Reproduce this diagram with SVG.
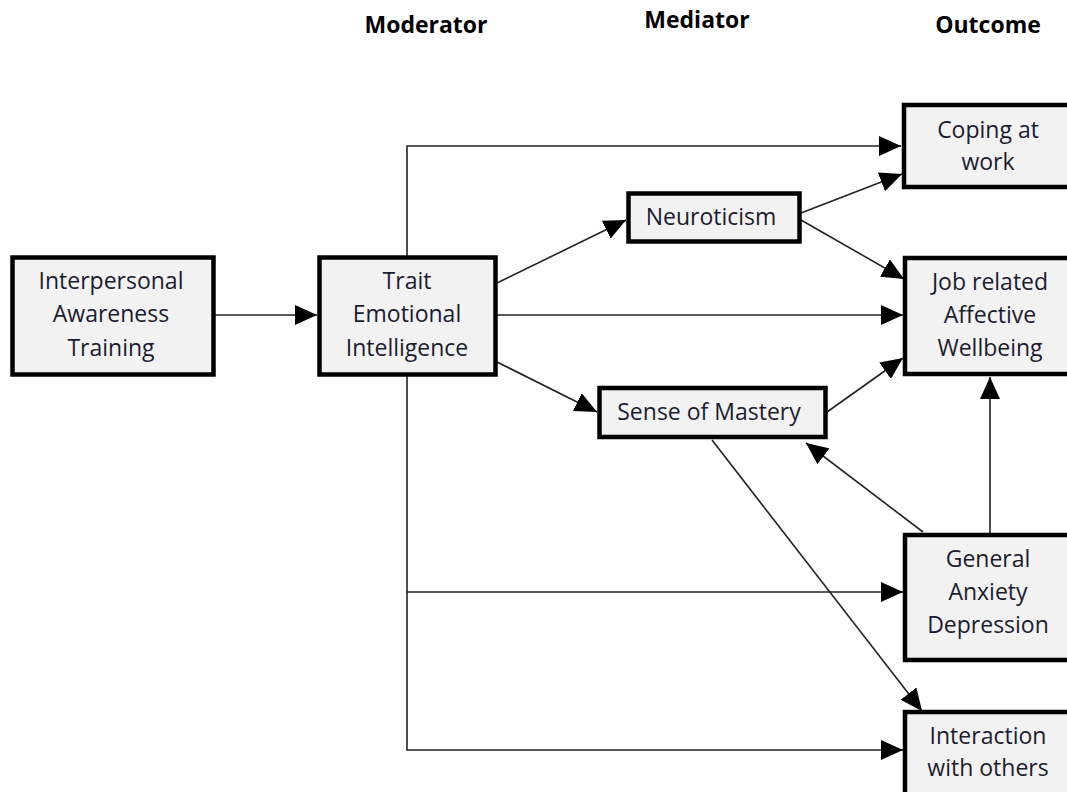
<svg xmlns="http://www.w3.org/2000/svg" width="1067" height="792" viewBox="0 0 1067 792">
<style>
.box{fill:#f2f2f2;stroke:#000;stroke-width:4.5}
.t{font-family:"Open Sans","Liberation Sans",sans-serif;font-size:23px;fill:#1c1c30;text-anchor:middle}
.h{font-family:"Open Sans","Liberation Sans",sans-serif;font-size:23px;font-weight:bold;fill:#000;text-anchor:middle}
.c{fill:none;stroke:#222;stroke-width:1.6}
</style>
<defs>
<marker id="ah" markerUnits="userSpaceOnUse" markerWidth="22" markerHeight="20" viewBox="0 0 22 20" refX="22" refY="10" orient="auto">
<path d="M0,0 L22,10 L0,20 Z" fill="#000"/>
</marker>
</defs>
<g id="headers">
<text class="h" x="426" y="33">Moderator</text>
<text class="h" x="697" y="28">Mediator</text>
<text class="h" x="988" y="33">Outcome</text>
</g>
<g id="connectors">
<line class="c" x1="215" y1="315" x2="317" y2="315" marker-end="url(#ah)"/>
<polyline class="c" points="407,257 407,146 901,146" marker-end="url(#ah)"/>
<line class="c" x1="407" y1="374" x2="407" y2="750"/>
<line class="c" x1="407" y1="592" x2="903" y2="592" marker-end="url(#ah)"/>
<line class="c" x1="406.2" y1="750" x2="903" y2="750" marker-end="url(#ah)"/>
<line class="c" x1="497" y1="283" x2="626" y2="220" marker-end="url(#ah)"/>
<line class="c" x1="497" y1="315" x2="903" y2="315" marker-end="url(#ah)"/>
<line class="c" x1="497" y1="362" x2="597" y2="412" stroke-width="2.8" marker-end="url(#ah)"/>
<line class="c" x1="801" y1="213" x2="902" y2="174" marker-end="url(#ah)"/>
<line class="c" x1="801" y1="220" x2="904" y2="279" marker-end="url(#ah)"/>
<line class="c" x1="827" y1="412" x2="903" y2="358" marker-end="url(#ah)"/>
<line class="c" x1="990" y1="533" x2="990" y2="377" marker-end="url(#ah)"/>
<line class="c" x1="923" y1="532" x2="806" y2="443" marker-end="url(#ah)"/>
<line class="c" x1="712" y1="440" x2="922" y2="711" marker-end="url(#ah)"/>
</g>
<g id="n-interpersonal">
<rect class="box" x="12.5" y="257.5" width="201" height="117"/>
<text class="t" x="111" y="289">Interpersonal</text>
<text class="t" x="111" y="322">Awareness</text>
<text class="t" x="111" y="356">Training</text>
</g>
<g id="n-trait">
<rect class="box" x="319.5" y="257.5" width="176" height="117"/>
<text class="t" x="407" y="289">Trait</text>
<text class="t" x="407" y="322">Emotional</text>
<text class="t" x="407" y="356">Intelligence</text>
</g>
<g id="n-neuroticism">
<rect class="box" x="628.5" y="193.5" width="171" height="48"/>
<text class="t" x="711" y="225">Neuroticism</text>
</g>
<g id="n-mastery">
<rect class="box" x="599.5" y="388" width="226" height="49"/>
<text class="t" x="709" y="420">Sense of Mastery</text>
</g>
<g id="n-coping">
<rect class="box" x="904" y="105" width="175" height="82"/>
<text class="t" x="988" y="138">Coping at</text>
<text class="t" x="988" y="170">work</text>
</g>
<g id="n-job">
<rect class="box" x="905" y="258" width="175" height="116"/>
<text class="t" x="990" y="290">Job related</text>
<text class="t" x="990" y="323">Affective</text>
<text class="t" x="990" y="356">Wellbeing</text>
</g>
<g id="n-general">
<rect class="box" x="905" y="535" width="175" height="125"/>
<text class="t" x="988" y="567">General</text>
<text class="t" x="988" y="600">Anxiety</text>
<text class="t" x="988" y="633">Depression</text>
</g>
<g id="n-interaction">
<rect class="box" x="905" y="712" width="175" height="100"/>
<text class="t" x="988" y="744">Interaction</text>
<text class="t" x="988" y="776">with others</text>
</g>
</svg>
